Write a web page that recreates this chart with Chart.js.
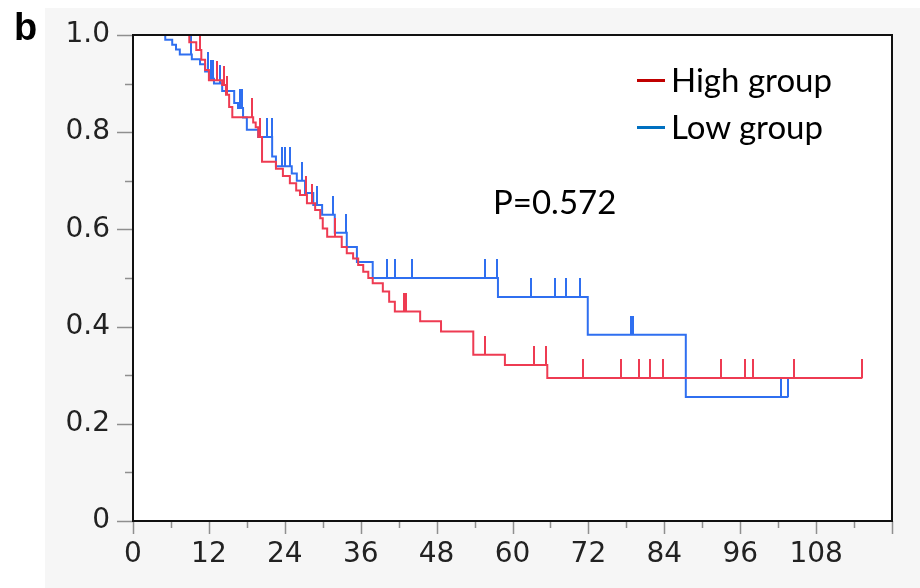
<!DOCTYPE html>
<html>
<head>
<meta charset="utf-8">
<script src="https://cdn.jsdelivr.net/npm/chart.js@4.4.0/dist/chart.umd.min.js"></script>
<style>
  html, body { margin: 0; padding: 0; background: #fff; }
  #wrap { position: relative; width: 920px; height: 588px; overflow: hidden; }
  #chart { position: absolute; left: 0; top: 0; }
  .txt { position: absolute; white-space: nowrap; line-height: 1; color: #000; }
  .lbl { font-family: Lato, sans-serif; font-size: 33px; }
  .key { position: absolute; width: 28px; height: 3px; }
</style>
</head>
<body>
<div id="wrap">
  <canvas id="chart" width="920" height="588"></canvas>
  <div class="txt" style="left:14px;top:6px;font:bold 38px 'Liberation Sans',Arial,sans-serif;">b</div>
  <div class="key" style="left:637px;top:79px;background:#c00000"></div>
  <div class="txt lbl" style="left:671px;top:63px">High group</div>
  <div class="key" style="left:637px;top:126px;background:#0070c0"></div>
  <div class="txt lbl" style="left:671px;top:110px">Low group</div>
  <div class="txt lbl" style="left:493px;top:185px">P=0.572</div>
</div>
<script>
// months at which the survival step drops, and the survival right after
const highTimes = [8.9, 10.0, 10.8, 11.4, 12.0, 14.1, 14.7, 15.2, 15.7, 19.0, 19.4, 19.8, 20.4, 22.6, 23.7, 24.8, 25.8, 26.4, 27.5, 28.8, 29.6, 30.0, 30.7, 33.0, 33.8, 34.8, 35.6, 36.4, 37.2, 37.9, 39.5, 40.5, 41.4, 45.4, 48.7, 53.8, 58.8, 65.5];
const highSurv = [0.985, 0.969, 0.949, 0.928, 0.907, 0.897, 0.877, 0.852, 0.831, 0.82, 0.81, 0.79, 0.739, 0.725, 0.71, 0.695, 0.68, 0.671, 0.654, 0.64, 0.623, 0.602, 0.585, 0.564, 0.551, 0.54, 0.527, 0.513, 0.5, 0.489, 0.472, 0.451, 0.431, 0.411, 0.39, 0.342, 0.321, 0.294];
const highCensor = [10.6, 13.3, 14.4, 14.9, 18.8, 20.1, 27.4, 28.3, 31.9, 42.8, 43.2, 55.7, 63.4, 65.3, 71.1, 77.2, 80.0, 81.7, 83.8, 93.0, 96.8, 98.0, 104.5, 115.3];
const highEnd = 115.3;

const lowTimes = [5.1, 6.2, 6.8, 7.4, 9.3, 10.6, 11.4, 12.2, 12.8, 14.1, 16.0, 16.6, 17.4, 18.0, 19.8, 22.0, 22.6, 25.1, 25.9, 27.2, 28.5, 29.9, 31.9, 33.8, 35.4, 37.9, 57.7, 71.9, 87.4];
const lowSurv = [0.99, 0.98, 0.97, 0.96, 0.95, 0.94, 0.925, 0.91, 0.90, 0.885, 0.86, 0.85, 0.83, 0.805, 0.79, 0.75, 0.73, 0.715, 0.70, 0.675, 0.65, 0.63, 0.593, 0.564, 0.533, 0.50, 0.461, 0.383, 0.255];
const lowCensor = [9.2, 11.9, 12.3, 12.6, 13.8, 16.9, 17.3, 20.1, 21.2, 21.9, 23.6, 24.0, 24.8, 26.7, 29.1, 31.6, 33.7, 40.2, 41.4, 44.1, 55.7, 57.5, 62.9, 66.7, 68.5, 70.7, 78.7, 79.1, 102.5, 103.6];
const lowEnd = 103.6;

// axis ticks
const xTickValues = [0, 6, 12, 18, 24, 30, 36, 42, 48, 54, 60, 66, 72, 78, 84, 90, 96, 102, 108, 114, 120];
const xLabels = [0, 12, 24, 36, 48, 60, 72, 84, 96, 108];
const yTickValues = [0, 0.1, 0.2, 0.3, 0.4, 0.5, 0.6, 0.7, 0.8, 0.9, 1.0];
const yLabels = ['0', '0.2', '0.4', '0.6', '0.8', '1.0'];

const RED = '#ee3b52';
const BLUE = '#2f6ff0';

function survAt(times, surv, t) {
  let s = 1;
  for (let i = 0; i < times.length; i++) {
    if (times[i] <= t) s = surv[i];
  }
  return s;
}

function curve(times, surv, end) {
  const pts = [{ x: 0, y: 1 }];
  times.forEach((t, i) => pts.push({ x: t, y: surv[i] }));
  pts.push({ x: end, y: surv[surv.length - 1] });
  return pts;
}

function censorPts(times, surv, cens) {
  return cens.map(t => ({ x: t, y: survAt(times, surv, t) }));
}

// small vertical bar standing on the curve
function tickMark(color) {
  const c = document.createElement('canvas');
  c.width = 2;
  c.height = 38;
  const g = c.getContext('2d');
  g.fillStyle = color;
  g.fillRect(0, 0, 2, 19);
  return c;
}

const frame = {
  id: 'frame',
  beforeDraw(chart) {
    const { ctx, chartArea: a } = chart;
    ctx.save();
    ctx.fillStyle = '#fff';
    ctx.fillRect(0, 0, chart.width, chart.height);
    ctx.fillStyle = '#f6f6f6';
    ctx.fillRect(45, 8, chart.width - 45, chart.height - 8);
    ctx.fillStyle = '#fff';
    ctx.fillRect(a.left, a.top, a.right - a.left, a.bottom - a.top);
    ctx.restore();
  },
  afterDraw(chart) {
    const { ctx, chartArea: a, scales: { x, y } } = chart;
    ctx.save();
    ctx.strokeStyle = '#8f8f8f';
    ctx.lineWidth = 1.5;
    ctx.beginPath();
    x.ticks.forEach(t => {
      const px = Math.round(x.getPixelForValue(t.value)) + 0.5;
      const len = t.value % 12 === 0 ? 13 : 7;
      ctx.moveTo(px, a.bottom);
      ctx.lineTo(px, a.bottom + len);
    });
    y.ticks.forEach(t => {
      const py = Math.round(y.getPixelForValue(t.value)) + 0.5;
      const major = Math.round(t.value * 10) % 2 === 0;
      ctx.moveTo(a.left, py);
      ctx.lineTo(a.left - (major ? 16 : 8), py);
    });
    ctx.stroke();
    ctx.strokeStyle = '#111';
    ctx.lineWidth = 2;
    ctx.strokeRect(a.left, a.top, a.right - a.left, a.bottom - a.top);
    ctx.restore();
  }
};

const axisFont = { family: "'DejaVu Sans', sans-serif", size: 28 };

new Chart(document.getElementById('chart'), {
  type: 'line',
  data: {
    datasets: [
      {
        label: 'High group',
        data: curve(highTimes, highSurv, highEnd),
        borderColor: RED,
        borderWidth: 2,
        stepped: true,
        pointRadius: 0,
        fill: false
      },
      {
        type: 'scatter',
        label: 'High censored',
        data: censorPts(highTimes, highSurv, highCensor),
        pointStyle: tickMark(RED),
        pointRadius: 3,
        pointHoverRadius: 3
      },
      {
        label: 'Low group',
        data: curve(lowTimes, lowSurv, lowEnd),
        borderColor: BLUE,
        borderWidth: 2,
        stepped: true,
        pointRadius: 0,
        fill: false
      },
      {
        type: 'scatter',
        label: 'Low censored',
        data: censorPts(lowTimes, lowSurv, lowCensor),
        pointStyle: tickMark(BLUE),
        pointRadius: 3,
        pointHoverRadius: 3
      }
    ]
  },
  options: {
    responsive: false,
    animation: false,
    layout: { padding: { top: 35, right: 28, left: 0, bottom: 0 } },
    plugins: {
      legend: { display: false },
      tooltip: { enabled: false }
    },
    scales: {
      x: {
        type: 'linear',
        min: 0,
        max: 120,
        grid: { display: false, drawTicks: false },
        border: { display: false },
        afterBuildTicks: s => { s.ticks = xTickValues.map(v => ({ value: v })); },
        afterFit: s => { s.height = 67; s.paddingLeft = 0; s.paddingRight = 0; },
        ticks: {
          autoSkip: false,
          maxRotation: 0,
          padding: 17,
          color: '#222',
          font: axisFont,
          callback: v => xLabels.includes(v) ? String(v) : ''
        }
      },
      y: {
        min: 0,
        max: 1,
        grid: { display: false, drawTicks: false },
        border: { display: false },
        afterBuildTicks: s => { s.ticks = yTickValues.map(v => ({ value: v })); },
        afterFit: s => { s.width = 133; s.paddingTop = 0; s.paddingBottom = 0; },
        ticks: {
          autoSkip: false,
          padding: 23,
          color: '#222',
          font: axisFont,
          callback: v => {
            const k = Math.round(v * 10);
            return k % 2 === 0 ? yLabels[k / 2] : '';
          }
        }
      }
    }
  },
  plugins: [frame]
});
</script>
</body>
</html>
